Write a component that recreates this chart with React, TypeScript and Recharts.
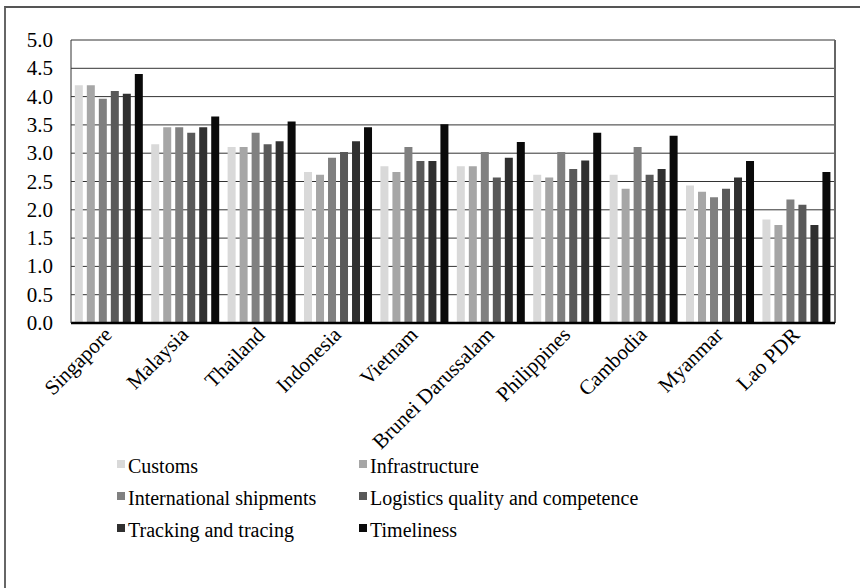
import { BarChart, Bar, XAxis, YAxis, CartesianGrid, Legend } from 'recharts';

const countries = ['Singapore', 'Malaysia', 'Thailand', 'Indonesia', 'Vietnam', 'Brunei Darussalam', 'Philippines', 'Cambodia', 'Myanmar', 'Lao PDR'];

const customs = [4.2, 3.16, 3.11, 2.67, 2.77, 2.77, 2.62, 2.62, 2.43, 1.83];
const infrastructure = [4.2, 3.46, 3.11, 2.62, 2.67, 2.77, 2.57, 2.37, 2.32, 1.73];
const shipments = [3.96, 3.46, 3.36, 2.92, 3.11, 3.02, 3.02, 3.11, 2.22, 2.18];
const logistics = [4.1, 3.36, 3.16, 3.02, 2.86, 2.57, 2.72, 2.62, 2.37, 2.09];
const tracking = [4.05, 3.46, 3.21, 3.21, 2.86, 2.92, 2.87, 2.72, 2.57, 1.73];
const timeliness = [4.4, 3.65, 3.56, 3.46, 3.51, 3.2, 3.36, 3.31, 2.86, 2.67];

const yTicks = [0, 0.5, 1, 1.5, 2, 2.5, 3, 3.5, 4, 4.5, 5];

const data = countries.map((country, i) => ({
    country,
    customs: customs[i],
    infrastructure: infrastructure[i],
    shipments: shipments[i],
    logistics: logistics[i],
    tracking: tracking[i],
    timeliness: timeliness[i],
}));

const series = [
    { key: 'customs', name: 'Customs', color: '#d9d9d9' },
    { key: 'infrastructure', name: 'Infrastructure', color: '#a6a6a6' },
    { key: 'shipments', name: 'International shipments', color: '#808080' },
    { key: 'logistics', name: 'Logistics quality and competence', color: '#595959' },
    { key: 'tracking', name: 'Tracking and tracing', color: '#303030' },
    { key: 'timeliness', name: 'Timeliness', color: '#0a0a0a' },
];

const font = '"Liberation Serif", "Times New Roman", Times, serif';

const CountryTick = ({ x, y, payload }: any) => (
    <text
        x={x + 4}
        y={y + 11}
        textAnchor="end"
        fontFamily={font}
        fontSize={21}
        fill="#000"
        transform={`rotate(-45, ${x + 4}, ${y + 11})`}
    >
        {payload.value}
    </text>
);

const ValueTick = ({ x, y, payload }: any) => (
    <text x={x} y={y} dy={7} textAnchor="end" fontFamily={font} fontSize={21} fill="#000">
        {Number(payload.value).toFixed(1)}
    </text>
);

// legend keeps the series order, two columns
const GridLegend = () => (
    <div style={{ position: 'relative', width: 860, height: 110, fontFamily: font, fontSize: 20, color: '#000' }}>
        {series.map((s, i) => (
            <div
                key={s.key}
                style={{
                    position: 'absolute',
                    left: i % 2 === 0 ? 117 : 359,
                    top: Math.floor(i / 2) * 32,
                    whiteSpace: 'nowrap',
                    lineHeight: '22px',
                }}
            >
                <span style={{ display: 'inline-block', width: 8, height: 8, background: s.color, marginRight: 3, verticalAlign: 'top', marginTop: 5 }} />
                {s.name}
            </div>
        ))}
    </div>
);

export default function App() {
    return (
        <div style={{ position: 'absolute', left: 0, top: 0, width: 860, height: 588, overflow: 'hidden', background: '#fff' }}>
            <div style={{ position: 'absolute', left: 4, top: 6, width: 900, height: 700, borderLeft: '2px solid #666', borderTop: '2px solid #555' }} />
            <div style={{ position: 'absolute', left: 0, top: 0 }}>
                <BarChart width={860} height={588} data={data} margin={{ top: 40, right: 25, left: 0, bottom: 0 }} barCategoryGap="5%" barGap={4}>
                    <CartesianGrid vertical={false} stroke="#333" />
                    <CartesianGrid horizontal={false} verticalPoints={[835]} stroke="#666" strokeWidth={2} />
                    <XAxis
                        dataKey="country"
                        height={265}
                        interval={0}
                        tickLine={false}
                        tickSize={0}
                        axisLine={{ stroke: '#000', strokeWidth: 2.5 }}
                        tick={<CountryTick />}
                    />
                    <YAxis
                        width={71}
                        domain={[0, 5]}
                        ticks={yTicks}
                        interval={0}
                        tickLine={false}
                        tickSize={0}
                        tickMargin={18}
                        axisLine={{ stroke: '#333' }}
                        tick={<ValueTick />}
                    />
                    <Legend
                        layout="horizontal"
                        verticalAlign="middle"
                        content={<GridLegend />}
                        wrapperStyle={{ left: 0, top: 455, width: 860, height: 110 }}
                    />
                    {series.map((s) => (
                        <Bar key={s.key} dataKey={s.key} name={s.name} fill={s.color} isAnimationActive={false} />
                    ))}
                </BarChart>
            </div>
        </div>
    );
}
